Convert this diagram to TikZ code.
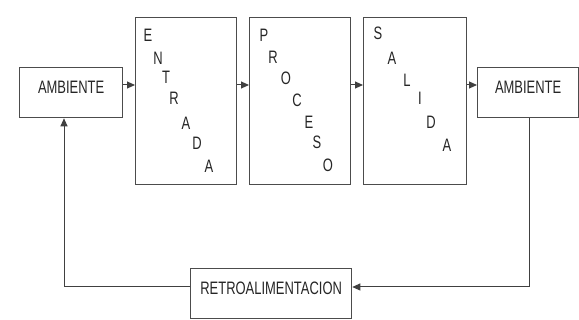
\documentclass[tikz,border=0pt]{standalone}
\usepackage{fontspec}
\setmainfont{Liberation Sans}[FakeStretch=0.72]
\usetikzlibrary{arrows.meta}

\tikzset{
  box/.style={draw=black!70, line width=1.3pt, fill=white, anchor=north west,
    inner sep=0pt, text height=13pt, text depth=11pt, text=black!85},
  letter/.style={inner sep=0pt, text=black!85},
  arr/.style={draw=black!75, line width=1pt, -{Triangle[length=8pt,width=7pt]}},
}

\begin{document}
\begin{tikzpicture}[x=1pt, y=-1pt, font=\fontsize{18}{20}\selectfont]
\useasboundingbox[fill=white] (0,0) rectangle (579,320);
% boxes
\node[box, minimum width=103, minimum height=50] (amb1) at (19,67) {AMBIENTE};
\node[box, minimum width=101, minimum height=167] (entrada) at (135,17) {};
\node[box, minimum width=101, minimum height=167] (proceso) at (249,17) {};
\node[box, minimum width=103, minimum height=167] (salida) at (363,17) {};
\node[box, minimum width=101, minimum height=50] (amb2) at (477,67) {AMBIENTE};
\node[box, minimum width=161, minimum height=50] (retro) at (190,268) {RETROALIMENTACION};
% letters going down the big boxes
\foreach \l/\dx/\dy [count=\i] in {E/13/18, N/23/41, T/31/60, R/39/81, A/51/106, D/62/126, A/74/149}
  \node[letter] (ent-\i) at ([shift={(\dx,\dy)}]entrada.north west) {\l};
\foreach \l/\dx/\dy [count=\i] in {P/15/18, R/24/40, O/37/61, C/48/83, E/60/105, S/68/125, O/79/148}
  \node[letter] (pro-\i) at ([shift={(\dx,\dy)}]proceso.north west) {\l};
\foreach \l/\dx/\dy [count=\i] in {S/15/16, A/29/41, L/44/63, I/57/81, D/68/105, A/84/128}
  \node[letter] (sal-\i) at ([shift={(\dx,\dy)}]salida.north west) {\l};
% connectors
\coordinate (row) at (0,85);
\coordinate (fb) at (0,287);
\coordinate (col) at (64,0);
\coordinate (down) at (529,0);
\draw[arr] (amb1.east |- row) -- (entrada.west |- row);
\draw[arr] (entrada.east |- row) -- (proceso.west |- row);
\draw[arr] (proceso.east |- row) -- (salida.west |- row);
\draw[arr] (salida.east |- row) -- (amb2.west |- row);
\draw[arr] (amb2.south -| down) |- (retro.east |- fb);
\draw[arr] (retro.west |- fb) -| (amb1.south -| col);
\end{tikzpicture}
\end{document}
